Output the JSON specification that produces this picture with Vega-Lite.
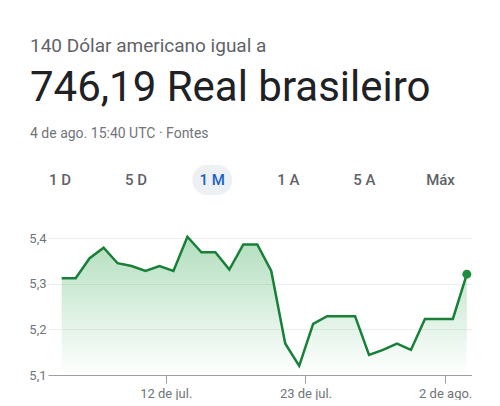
{
  "$schema": "https://vega.github.io/schema/vega-lite/v6.json",
  "background": "white",
  "padding": {"left": 28, "top": 37, "right": 0, "bottom": 0},
  "title": {
    "text": "140 Dólar americano igual a",
    "subtitle": "746,19 Real brasileiro",
    "anchor": "start",
    "frame": "group",
    "font": "Roboto",
    "fontSize": 19,
    "fontWeight": "normal",
    "color": "#5f6368",
    "subtitleFont": "Roboto",
    "subtitleFontSize": 42,
    "subtitleColor": "#202124",
    "subtitlePadding": 12,
    "offset": 18,
    "dx": -18
  },
  "spacing": 34,
  "vconcat": [
    {
      "width": 424,
      "height": 30,
      "title": {
        "text": "4 de ago. 15:40 UTC · Fontes",
        "anchor": "start",
        "frame": "group",
        "font": "Roboto",
        "fontSize": 14,
        "fontWeight": "normal",
        "color": "#70757a",
        "offset": 24,
        "dx": -18
      },
      "data": {
        "values": [
          {"o": 0, "label": "1 D"},
          {"o": 1, "label": "5 D"},
          {"o": 2, "label": "1 M"},
          {"o": 3, "label": "1 A"},
          {"o": 4, "label": "5 A"},
          {"o": 5, "label": "Máx"}
        ]
      },
      "encoding": {
        "x": {
          "field": "o",
          "type": "quantitative",
          "scale": {"domain": [-0.1577, 5.4139], "nice": false, "zero": false},
          "axis": null
        }
      },
      "layer": [
        {
          "transform": [{"filter": "datum.label === '1 M'"}],
          "mark": {"type": "tick", "thickness": 40, "size": 30, "cornerRadius": 15, "color": "#eef1f4", "opacity": 1}
        },
        {
          "mark": {"type": "text", "font": "Roboto", "fontSize": 15, "fontWeight": 500, "baseline": "middle", "align": "center"},
          "encoding": {
            "text": {"field": "label"},
            "color": {"condition": {"test": "datum.label === '1 M'", "value": "#1a62c9"}, "value": "#5f6368"}
          }
        }
      ]
    },
    {
      "width": 424,
      "height": 146,
      "data": {
        "values": [
          {"i": 0, "v": 5.312},
          {"i": 1, "v": 5.312},
          {"i": 2, "v": 5.356},
          {"i": 3, "v": 5.379},
          {"i": 4, "v": 5.345},
          {"i": 5, "v": 5.339},
          {"i": 6, "v": 5.328},
          {"i": 7, "v": 5.339},
          {"i": 8, "v": 5.328},
          {"i": 9, "v": 5.403},
          {"i": 10, "v": 5.369},
          {"i": 11, "v": 5.369},
          {"i": 12, "v": 5.331},
          {"i": 13, "v": 5.386},
          {"i": 14, "v": 5.386},
          {"i": 15, "v": 5.328},
          {"i": 16, "v": 5.169},
          {"i": 17, "v": 5.120},
          {"i": 18, "v": 5.212},
          {"i": 19, "v": 5.229},
          {"i": 20, "v": 5.229},
          {"i": 21, "v": 5.229},
          {"i": 22, "v": 5.144},
          {"i": 23, "v": 5.155},
          {"i": 24, "v": 5.169},
          {"i": 25, "v": 5.155},
          {"i": 26, "v": 5.223},
          {"i": 27, "v": 5.223},
          {"i": 28, "v": 5.223},
          {"i": 29, "v": 5.321}
        ]
      },
      "encoding": {
        "x": {
          "field": "i",
          "type": "quantitative",
          "scale": {"domain": [-0.98, 29.37], "nice": false, "zero": false},
          "axis": {
            "title": null,
            "values": [7.45, 17.45, 27.45],
            "labelExpr": "datum.value < 10 ? '12 de jul.' : (datum.value < 20 ? '23 de jul.' : '2 de ago.')",
            "grid": false,
            "domain": true,
            "domainColor": "#9aa0a6",
            "tickColor": "#9aa0a6",
            "tickSize": 8,
            "labelPadding": 4,
            "labelFont": "Roboto",
            "labelFontSize": 13,
            "labelColor": "#70757a",
            "labelFlush": false
          }
        },
        "y": {
          "field": "v",
          "type": "quantitative",
          "scale": {"domain": [5.1, 5.42], "nice": false, "zero": false},
          "axis": {
            "title": null,
            "values": [5.1, 5.2, 5.3, 5.4],
            "labelExpr": "replace(format(datum.value, '.1f'), '.', ',')",
            "domain": false,
            "ticks": false,
            "grid": true,
            "gridColor": "#eceff1",
            "labelPadding": 2,
            "labelFont": "Roboto",
            "labelFontSize": 13,
            "labelColor": "#70757a"
          }
        }
      },
      "layer": [
        {
          "mark": {
            "type": "area",
            "fill": {
              "gradient": "linear",
              "x1": 0, "y1": 0, "x2": 0, "y2": 1,
              "stops": [
                {"offset": 0, "color": "rgba(52,168,83,0.38)"},
                {"offset": 1, "color": "rgba(52,168,83,0.0)"}
              ]
            }
          },
          "encoding": {"y2": {"datum": 5.1}}
        },
        {
          "mark": {"type": "line", "color": "#188038", "strokeWidth": 2.5, "strokeJoin": "miter"}
        },
        {
          "transform": [{"filter": "datum.i === 29"}],
          "mark": {"type": "point", "filled": true, "size": 80, "color": "#1e8e3e", "opacity": 1}
        }
      ]
    }
  ],
  "config": {"view": {"stroke": null}, "font": "Roboto"}
}
